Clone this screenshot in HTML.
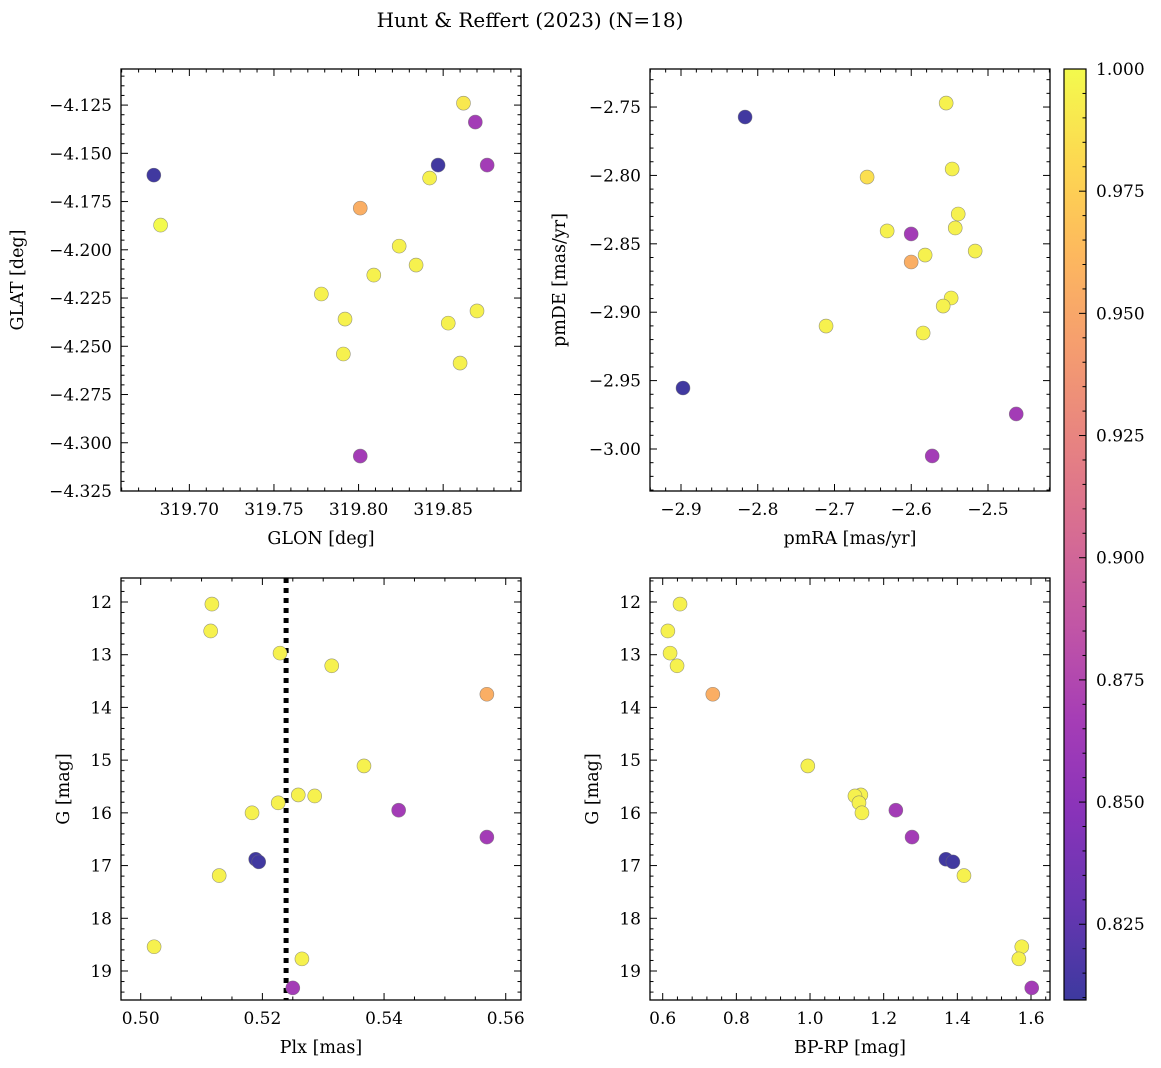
<!DOCTYPE html>
<html><head><meta charset="utf-8"><style>
html,body{margin:0;padding:0;background:#fff;}
svg{display:block;font-family:"DejaVu Serif","Liberation Serif",serif;}
</style></head><body>
<svg id="fig" width="1161" height="1068" viewBox="0 0 1161 1068" xmlns="http://www.w3.org/2000/svg">
<text x="530" y="27" text-anchor="middle" font-size="20">Hunt &amp; Reffert (2023) (N=18)</text>
</svg>
<script>
// ---- data ----
const glon = [319.679,319.683,319.862,319.869,319.876,319.847,319.842,319.801,319.824,319.809,319.834,319.778,319.792,319.791,319.853,319.870,319.860,319.801];
const glat = [-4.1613,-4.1872,-4.1240,-4.1338,-4.1561,-4.1561,-4.1628,-4.1784,-4.1981,-4.2131,-4.2079,-4.2229,-4.2359,-4.2540,-4.2380,-4.2317,-4.2587,-4.3069];
const probPos = [0.811,1.0,0.99,0.865,0.865,0.811,0.995,0.955,0.995,0.995,0.995,0.995,0.995,0.995,0.995,0.995,0.995,0.865];

const pmra = [-2.8165,-2.5545,-2.5467,-2.6575,-2.5388,-2.5427,-2.6314,-2.6001,-2.5167,-2.5819,-2.6001,-2.5480,-2.5584,-2.5845,-2.7110,-2.8974,-2.4632,-2.5727];
const pmde = [-2.7573,-2.7471,-2.7953,-2.8012,-2.8282,-2.8384,-2.8406,-2.8428,-2.8553,-2.8582,-2.8633,-2.8896,-2.8955,-2.9152,-2.9101,-2.9554,-2.9744,-3.0051];
const probPm = [0.811,0.995,0.995,0.985,0.995,0.995,0.995,0.865,0.995,0.995,0.955,0.995,0.995,0.995,0.995,0.811,0.865,0.865];

const plx  = [0.5117,0.5115,0.5229,0.5314,0.5569,0.5367,0.5259,0.5286,0.5424,0.5226,0.5183,0.5569,0.5189,0.5194,0.5129,0.5022,0.5265,0.5250];
const gmag = [12.04,12.55,12.97,13.21,13.75,15.11,15.66,15.68,15.95,15.81,16.00,16.46,16.88,16.93,17.19,18.54,18.77,19.32];
const bprp = [0.647,0.614,0.620,0.639,0.736,0.994,1.138,1.122,1.233,1.133,1.141,1.277,1.369,1.388,1.418,1.575,1.567,1.602];
const probCmd = [0.995,0.995,0.995,0.995,0.955,0.995,0.995,0.995,0.865,0.995,0.995,0.865,0.811,0.811,0.995,0.995,0.995,0.865];
const plxCut = [0.5239];

const cbarTicks = [0.825,0.850,0.875,0.900,0.925,0.950,0.975,1.000];
const cmin = 0.8095, cmax = 1.0;

// ---- helpers ----
const NS = "http://www.w3.org/2000/svg";
const fig = document.getElementById('fig');
function el(tag, attrs, parent){const e=document.createElementNS(NS,tag);for(const k in attrs)e.setAttribute(k,attrs[k]);(parent||fig).appendChild(e);return e;}
const stops=[[0,[13,8,135]],[0.1,[65,4,157]],[0.2,[106,0,168]],[0.3,[143,13,164]],[0.4,[177,42,144]],[0.5,[204,71,120]],[0.6,[225,100,98]],[0.7,[242,132,75]],[0.8,[252,166,54]],[0.9,[252,206,37]],[1,[240,249,33]]];
function plasma(t){t=Math.max(0,Math.min(1,t));for(let i=1;i<stops.length;i++){if(t<=stops[i][0]){const a=stops[i-1],b=stops[i];const f=(t-a[0])/(b[0]-a[0]);const c=a[1].map((v,j)=>v+(b[1][j]-v)*f);return c.map(v=>Math.round(v*0.8+255*0.2));}}return [243,250,77];}
function col(v){const c=plasma((v-cmin)/(cmax-cmin));return `rgb(${c[0]},${c[1]},${c[2]})`;}
function fmt(v,d){const s=Math.abs(v).toFixed(d);return (v<0?'\u2212':'')+s;}

function panel(opt){
  const g=el('g',{});
  
  
  const {x0,x1,y0,y1}=opt.box;
  const sx=v=>x0+(v-opt.xd[0])/(opt.xd[1]-opt.xd[0])*(x1-x0);
  const sy=v=>opt.yinv? y0+(v-opt.yd[0])/(opt.yd[1]-opt.yd[0])*(y1-y0) : y1-(v-opt.yd[0])/(opt.yd[1]-opt.yd[0])*(y1-y0);
  const tg=el('g',{stroke:'#000','stroke-width':1},g);
  const eps=1e-9;
  const xs=Math.min(...opt.xd), xe=Math.max(...opt.xd);
  for(let v=Math.ceil((xs-eps)/opt.xminor)*opt.xminor; v<=xe+eps; v+=opt.xminor){
    const isMaj=Math.abs(v/opt.xmajor-Math.round(v/opt.xmajor))<1e-4; const L=isMaj?7:3.5; const X=sx(v);
    el('line',{x1:X,x2:X,y1:y1,y2:y1-L},tg); el('line',{x1:X,x2:X,y1:y0,y2:y0+L},tg);
    if(isMaj){const t=el('text',{x:X,y:y1+24,'text-anchor':'middle','font-size':17,stroke:'none',fill:'#000'},g);t.textContent=fmt(v,opt.xdec);
      }
  }
  const ys=Math.min(...opt.yd), ye=Math.max(...opt.yd);
  for(let v=Math.ceil((ys-eps)/opt.yminor)*opt.yminor; v<=ye+eps; v+=opt.yminor){
    const isMaj=Math.abs(v/opt.ymajor-Math.round(v/opt.ymajor))<1e-4; const L=isMaj?7:3.5; const Y=sy(v);
    el('line',{x1:x0,x2:x0+L,y1:Y,y2:Y},tg); el('line',{x1:x1,x2:x1-L,y1:Y,y2:Y},tg);
    if(isMaj){const t=el('text',{x:x0-9,y:Y+6,'text-anchor':'end','font-size':17,stroke:'none',fill:'#000'},g);t.textContent=fmt(v,opt.ydec);
      }
  }
  if(opt.vline){const X=sx(opt.vline[0]);const l=el('line',{x1:X,x2:X,y1:y0,y2:y1,stroke:'#000','stroke-width':5,'stroke-dasharray':'5 5'},g);
    }
  for(let i=0;i<opt.xv.length;i++){
    const c=el('circle',{cx:sx(opt.xv[i]),cy:sy(opt.yv[i]),r:7,fill:col(opt.cv[i]),stroke:'rgba(110,110,110,0.7)','stroke-width':0.6},g);
    
    
  }
  el('rect',{x:x0,y:y0,width:x1-x0,height:y1-y0,fill:'none',stroke:'#000','stroke-width':1.3},g);
  const xl=el('text',{x:(x0+x1)/2,y:y1+53,'text-anchor':'middle','font-size':17.5},g);xl.textContent=opt.xlabel;
  
  const yx=opt.ylabx, yy=(y0+y1)/2;
  const yl=el('text',{x:yx,y:yy,'text-anchor':'middle','font-size':17.5,transform:`rotate(-90 ${yx} ${yy})`},g);yl.textContent=opt.ylabel;
  
}

panel({name:'position-panel',box:{x0:121,x1:521,y0:69,y1:491},xd:[319.6596,319.896],yd:[-4.325,-4.1063],xmajor:0.05,xminor:0.01,ymajor:0.025,yminor:0.005,xdec:2,ydec:3,xv:glon,yv:glat,cv:probPos,xlabel:'GLON [deg]',ylabel:'GLAT [deg]',ylabx:23});
panel({name:'proper-motion-panel',box:{x0:650,x1:1050,y0:69,y1:491},xd:[-2.9404,-2.4192],yd:[-3.0307,-2.7222],xmajor:0.1,xminor:0.02,ymajor:0.05,yminor:0.01,xdec:1,ydec:2,xv:pmra,yv:pmde,cv:probPm,xlabel:'pmRA [mas/yr]',ylabel:'pmDE [mas/yr]',ylabx:565});
panel({name:'parallax-magnitude-panel',box:{x0:121,x1:521,y0:578,y1:1000},xd:[0.49676,0.56251],yd:[11.545,19.55],yinv:true,xmajor:0.02,xminor:0.005,ymajor:1,yminor:0.2,xdec:2,ydec:0,xv:plx,yv:gmag,cv:probCmd,vline:plxCut,xlabel:'Plx [mas]',ylabel:'G [mag]',ylabx:69});
panel({name:'color-magnitude-panel',box:{x0:650,x1:1050,y0:578,y1:1000},xd:[0.5655,1.6516],yd:[11.545,19.55],yinv:true,xmajor:0.2,xminor:0.04,ymajor:1,yminor:0.2,xdec:1,ydec:0,xv:bprp,yv:gmag,cv:probCmd,xlabel:'BP-RP [mag]',ylabel:'G [mag]',ylabx:598});

// colorbar
(function(){
  const g=el('g',{});
  
  
  const x0=1064,x1=1086,y0=69,y1=1000;
  const defs=el('defs',{},g);
  const lg=el('linearGradient',{id:'cg',x1:0,y1:1,x2:0,y2:0},defs);
  for(let i=0;i<=20;i++){const t=i/20;const c=plasma(t);el('stop',{offset:t,'stop-color':`rgb(${c[0]},${c[1]},${c[2]})`},lg);}
  el('rect',{x:x0,y:y0,width:x1-x0,height:y1-y0,fill:'url(#cg)',stroke:'#000','stroke-width':1.2},g);
  const sy=v=>y1-(v-cmin)/(cmax-cmin)*(y1-y0);
  for(let v=0.810;v<=1.0001;v+=0.005){const Y=sy(v);const maj=cbarTicks.some(t=>Math.abs(t-v)<1e-6);
    el('line',{x1:x1,x2:x1-(maj?7:3.5),y1:Y,y2:Y,stroke:'#000','stroke-width':1},g);}
  for(const t of cbarTicks){const tx=el('text',{x:x1+10,y:sy(t)+6,'font-size':17},g);tx.textContent=t.toFixed(3);
    }
})();
</script>
</body></html>
